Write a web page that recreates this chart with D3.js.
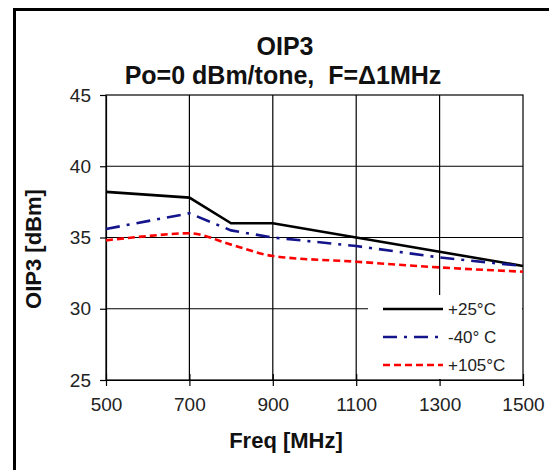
<!DOCTYPE html>
<html><head><meta charset="utf-8">
<script src="https://cdn.jsdelivr.net/npm/d3@7"></script>
<style>
html,body{margin:0;padding:0;background:#fff;}
svg{display:block;font-family:"Liberation Sans",Arial,sans-serif;}
</style></head>
<body>
<svg id="chart" width="549" height="470"></svg>
<script>
const titleLines = ["OIP3", "Po=0 dBm/tone,  F=\u03941MHz"];
const xLabel = "Freq [MHz]";
const yLabel = "OIP3 [dBm]";
const xTicks = [500, 700, 900, 1100, 1300, 1500];
const yTicks = [25, 30, 35, 40, 45];
const seriesNames = ["+25\u00b0C", "-40\u00b0 C", "+105\u00b0C"];
const freq25 = [500, 700, 800, 900, 1100, 1300, 1500];
const oip25 = [38.2, 37.8, 36.0, 36.0, 35.0, 34.0, 33.0];
const freqM40 = [500, 700, 800, 900, 1100, 1300, 1500];
const oipM40 = [35.6, 36.7, 35.5, 35.0, 34.4, 33.6, 33.0];
const freq105 = [500, 600, 700, 800, 900, 1100, 1300, 1500];
const oip105 = [34.8, 35.1, 35.3, 34.5, 33.7, 33.3, 32.9, 32.6];

const svg = d3.select("#chart");
const L = 106, R = 523, T = 95, B = 380;
const x = d3.scaleLinear().domain([500, 1500]).range([L, R]);
const y = d3.scaleLinear().domain([25, 45]).range([B, T]);

// outer frame
svg.append("path").attr("d", `M14.5,470 L14.5,9.5 L549,9.5`)
  .attr("fill", "none").attr("stroke", "#000").attr("stroke-width", 3);

// title
const tpos = [[285, 55], [283, 84]];
titleLines.forEach((t, i) => {
  svg.append("text").attr("x", tpos[i][0]).attr("y", tpos[i][1])
    .attr("text-anchor", "middle").attr("font-weight", "bold")
    .attr("font-size", 25).attr("fill", "#111")
    .style("white-space", "pre").attr("xml:space", "preserve").text(t);
});

// grid
const g = svg.append("g");
g.selectAll(".hg").data(yTicks.filter(v => v > 25 && v < 45)).join("line")
  .attr("x1", L).attr("x2", R).attr("y1", d => y(d)).attr("y2", d => y(d))
  .attr("stroke", "#000").attr("stroke-width", 1.2);
g.selectAll(".vg").data(xTicks.filter(v => v > 500 && v < 1500)).join("line")
  .attr("x1", d => x(d)).attr("x2", d => x(d)).attr("y1", T).attr("y2", B)
  .attr("stroke", "#000").attr("stroke-width", 1.2);
g.append("rect").attr("x", L).attr("y", T).attr("width", R - L).attr("height", B - T)
  .attr("fill", "none").attr("stroke", "#000").attr("stroke-width", 1.2);

// axes
const xAxis = svg.append("g").attr("transform", `translate(0,${B})`)
  .call(d3.axisBottom(x).tickValues(xTicks).tickFormat(d3.format("d"))
    .tickSize(6).tickSizeOuter(0).tickPadding(12));
xAxis.selectAll(".tick line").attr("y1", -6).attr("stroke-width", 1.2);
const yAxis = svg.append("g").attr("transform", `translate(${L},0)`)
  .call(d3.axisLeft(y).tickValues(yTicks).tickFormat(d3.format("d"))
    .tickSize(6).tickSizeOuter(0).tickPadding(9));
yAxis.selectAll(".tick line").attr("stroke-width", 1.2);
[xAxis, yAxis].forEach(a => {
  a.select(".domain").attr("stroke", "#000").attr("stroke-width", 1.2);
  a.selectAll("text").attr("font-size", 19).attr("fill", "#222")
    .attr("font-family", "'Liberation Sans',Arial,sans-serif");
});

// axis labels
svg.append("text").attr("x", 286).attr("y", 448).attr("text-anchor", "middle")
  .attr("font-weight", "bold").attr("font-size", 22).attr("fill", "#111").text(xLabel);
svg.append("text").attr("transform", `translate(41,249) rotate(-90)`)
  .attr("text-anchor", "middle").attr("font-weight", "bold").attr("font-size", 22)
  .attr("fill", "#111").text(yLabel);

// legend background
svg.append("rect").attr("x", 368).attr("y", 295).attr("width", 154).attr("height", 84)
  .attr("fill", "#fff");

const styles = [
  { f: freq25, v: oip25, color: "#000", dash: null, curve: d3.curveLinear },
  { f: freqM40, v: oipM40, color: "#14148c", dash: "14,7,3,7", curve: d3.curveLinear },
  { f: freq105, v: oip105, color: "#ff0000", dash: "7,4", curve: d3.curveMonotoneX }
];
styles.forEach((s, i) => {
  const pts = s.f.map((f, j) => [f, s.v[j]]);
  svg.append("path").datum(pts)
    .attr("d", d3.line().x(d => x(d[0])).y(d => y(d[1])).curve(s.curve))
    .attr("fill", "none").attr("stroke", s.color).attr("stroke-width", 2.6)
    .attr("stroke-dasharray", s.dash);
  const ly = 309 + i * 28;
  svg.append("line").attr("x1", 383).attr("x2", 443).attr("y1", ly).attr("y2", ly)
    .attr("stroke", s.color).attr("stroke-width", 2.6).attr("stroke-dasharray", s.dash);
  svg.append("text").attr("x", 448).attr("y", ly + 6).attr("font-size", 17)
    .attr("fill", "#222").text(seriesNames[i]);
});
</script>
</body></html>
